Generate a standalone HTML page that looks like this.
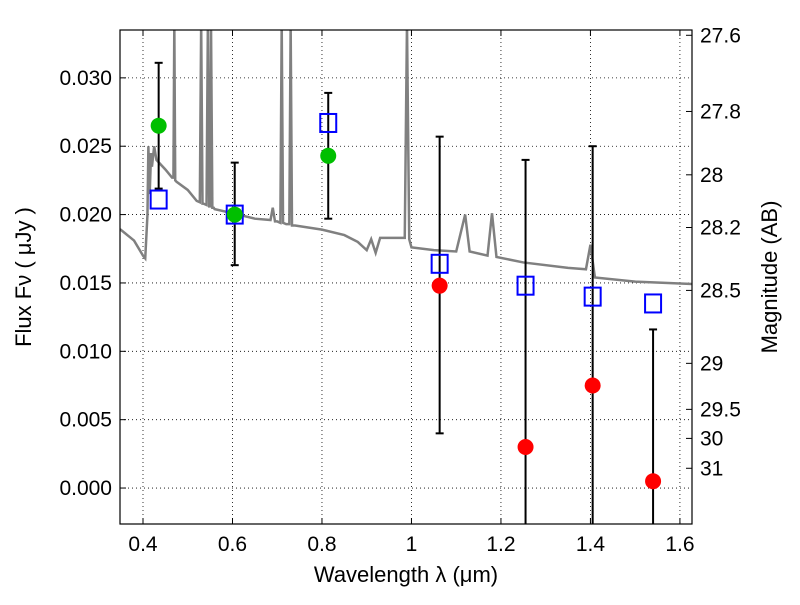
<!DOCTYPE html>
<html><head><meta charset="utf-8"><style>body{margin:0;background:#fff}svg{font-family:"Liberation Sans","DejaVu Sans",sans-serif}</style></head>
<body>
<svg id="c" width="800" height="600"></svg>
<script>
const specWl=[0.34,0.35,0.38,0.40,0.405,0.41,0.412,0.415,0.418,0.42,0.425,0.43,0.45,0.465,0.468,0.47,0.472,0.475,0.50,0.52,0.527,0.53,0.533,0.535,0.542,0.545,0.548,0.55,0.552,0.555,0.558,0.56,0.60,0.65,0.685,0.69,0.695,0.70,0.707,0.71,0.713,0.72,0.727,0.73,0.733,0.74,0.80,0.85,0.88,0.90,0.91,0.92,0.93,0.96,0.985,0.99,0.995,1.00,1.05,1.10,1.12,1.13,1.17,1.18,1.19,1.25,1.35,1.39,1.40,1.41,1.50,1.64];
const specF=[0.0190,0.0189,0.0181,0.0170,0.0168,0.0200,0.0250,0.0215,0.0245,0.0235,0.0250,0.0240,0.0233,0.0227,0.0227,0.034,0.0225,0.0224,0.0218,0.0210,0.0209,0.034,0.0208,0.0208,0.0207,0.034,0.0206,0.0206,0.034,0.0205,0.0205,0.0204,0.0201,0.0197,0.0196,0.0205,0.0195,0.0195,0.0194,0.034,0.0194,0.0193,0.0193,0.034,0.0192,0.0192,0.0189,0.0185,0.0180,0.0174,0.0182,0.0172,0.0183,0.0183,0.0183,0.034,0.0182,0.0176,0.0174,0.0173,0.0200,0.0173,0.0170,0.0201,0.0169,0.0165,0.0161,0.0160,0.0178,0.0154,0.0151,0.0149];
const modelWl=[0.435,0.605,0.814,1.063,1.255,1.405,1.54];
const modelF=[0.0211,0.0200,0.0267,0.0164,0.0148,0.0140,0.0135];
const obsWl=[0.435,0.605,0.814,1.063,1.255,1.405,1.54];
const obsF=[0.0265,0.0200,0.0243,0.0148,0.0030,0.0075,0.0005];
const obsHi=[0.0311,0.0238,0.0289,0.0257,0.0240,0.0250,0.0116];
const obsLo=[0.0219,0.0163,0.0197,0.0040,-0.01,-0.01,-0.01];
const obsDetected=[true,true,true,false,false,false,false];
const xTicks=[0.4,0.6,0.8,1.0,1.2,1.4,1.6];
const xTickLabels=["0.4","0.6","0.8","1","1.2","1.4","1.6"];
const yTicks=[0,0.005,0.010,0.015,0.020,0.025,0.030];
const yTickLabels=["0.000","0.005","0.010","0.015","0.020","0.025","0.030"];
const magTicks=[27.6,27.8,28,28.2,28.5,29,29.5,30,31];
const magTickLabels=["27.6","27.8","28","28.2","28.5","29","29.5","30","31"];

const L=120,R=692,T=30,B=524,X0=0.3486,X1=1.627,Y0=-0.00263,Y1=0.0335;
const sx=v=>L+(v-X0)/(X1-X0)*(R-L), sy=v=>B-(v-Y0)/(Y1-Y0)*(B-T);
const svg=document.getElementById('c'),NS='http://www.w3.org/2000/svg';
function mk(t,a,p){const e=document.createElementNS(NS,t);for(const k in a)e.setAttribute(k,a[k]);(p||svg).appendChild(e);return e;}
const defs=mk('defs',{});const cp=mk('clipPath',{id:'cp'},defs);mk('rect',{x:L,y:T,width:R-L,height:B-T},cp);
xTicks.forEach((v,i)=>{const x=sx(v);
 const g=mk('line',{x1:x,x2:x,y1:T,y2:B,stroke:'#000','stroke-dasharray':'1,3','stroke-width':0.8});
 
 mk('line',{x1:x,x2:x,y1:B,y2:B-6,stroke:'#000'});mk('line',{x1:x,x2:x,y1:T,y2:T+6,stroke:'#000'});
 const t=mk('text',{x:x,y:B+27,'font-size':21,'text-anchor':'middle'});t.textContent=xTickLabels[i];
 });
yTicks.forEach((v,i)=>{const y=sy(v);
 const g=mk('line',{x1:L,x2:R,y1:y,y2:y,stroke:'#000','stroke-dasharray':'1,3','stroke-width':0.8});
 
 mk('line',{x1:L,x2:L+6,y1:y,y2:y,stroke:'#000'});
 const t=mk('text',{x:L-8,y:y+7,'font-size':21,'text-anchor':'end'});t.textContent=yTickLabels[i];
 });
magTicks.forEach((m,i)=>{const y=sy(Math.pow(10,-0.4*(m-23.9)));
 mk('line',{x1:R,x2:R-6,y1:y,y2:y,stroke:'#000'});
 const t=mk('text',{x:R+8,y:y+7,'font-size':21});t.textContent=magTickLabels[i];
 });
const pl=mk('polyline',{points:specWl.map((w,i)=>sx(w)+','+sy(specF[i])).join(' '),fill:'none',stroke:'#808080','stroke-width':2.5,'clip-path':'url(#cp)'});

obsWl.forEach((w,i)=>{const x=sx(w),g=mk('g',{'clip-path':'url(#cp)'});
 
 mk('line',{x1:x,x2:x,y1:sy(obsHi[i]),y2:sy(obsLo[i]),stroke:'#000','stroke-width':2},g);
 mk('line',{x1:x-4,x2:x+4,y1:sy(obsHi[i]),y2:sy(obsHi[i]),stroke:'#000','stroke-width':2},g);
 mk('line',{x1:x-4,x2:x+4,y1:sy(obsLo[i]),y2:sy(obsLo[i]),stroke:'#000','stroke-width':2},g);});
modelWl.forEach((w,i)=>{const r=mk('rect',{x:sx(w)-8,y:sy(modelF[i])-9,width:16,height:18,fill:'none',stroke:'#0000ff','stroke-width':2});
 });
obsWl.forEach((w,i)=>{const c=mk('circle',{cx:sx(w),cy:sy(obsF[i]),r:8,fill:obsDetected[i]?'#00bf00':'#ff0000'});
 });
const fr=mk('rect',{x:L,y:T,width:R-L,height:B-T,fill:'none',stroke:'#000','stroke-width':1.2});

const xt=mk('text',{x:406,y:582,'font-size':22,'text-anchor':'middle'});xt.textContent='Wavelength  λ (μm)';

const yt=mk('text',{x:0,y:0,'font-size':22,'text-anchor':'middle',transform:'translate(31,277) rotate(-90)'});yt.textContent='Flux  Fν  ( μJy )';

const rt=mk('text',{x:0,y:0,'font-size':22,'text-anchor':'middle',transform:'translate(777,277) rotate(-90)'});rt.textContent='Magnitude (AB)';

</script>
</body></html>
